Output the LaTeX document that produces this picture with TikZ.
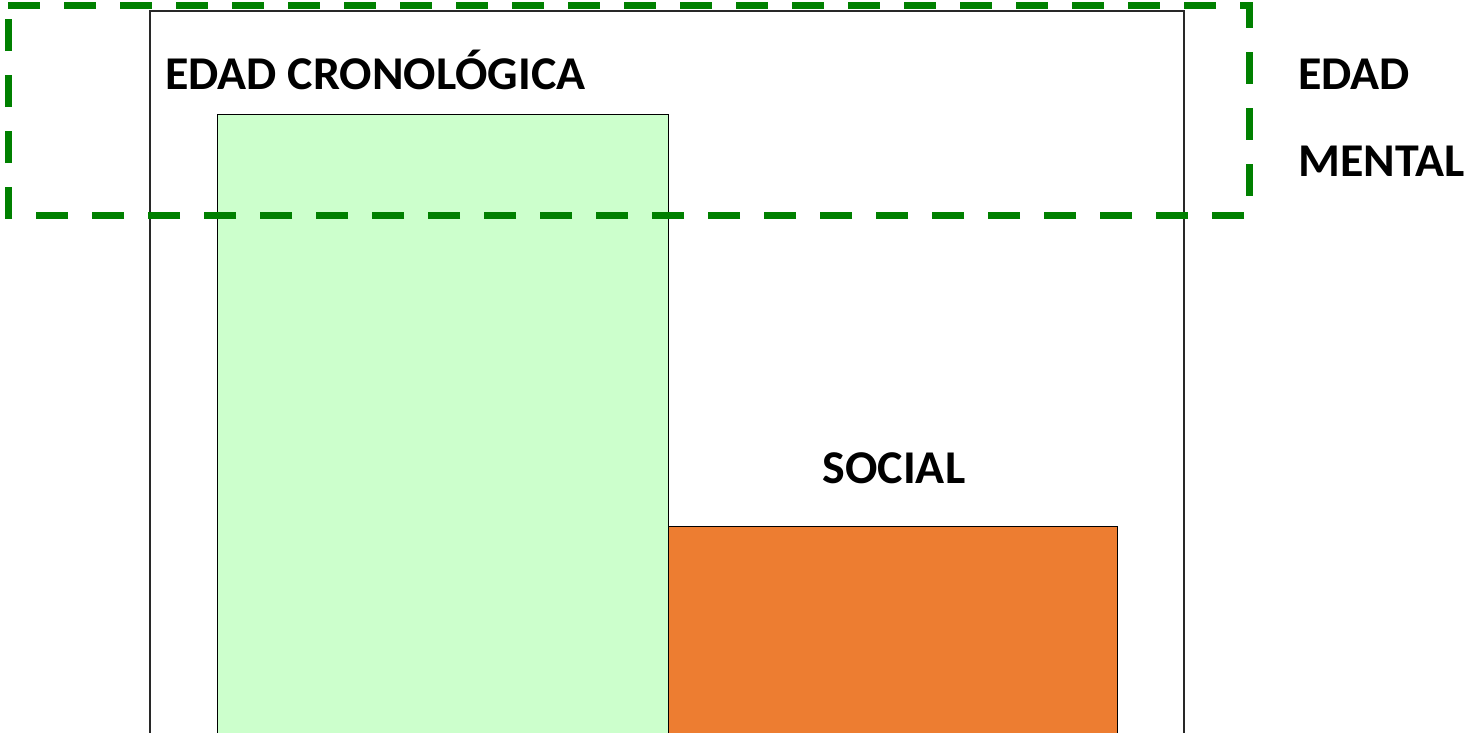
\documentclass[tikz,border=0pt]{standalone}
\usepackage{fontspec}
\setmainfont[FakeStretch=1.02]{Carlito}
\usetikzlibrary{positioning}
\definecolor{barverde}{HTML}{CCFFCC}
\definecolor{barnaranja}{HTML}{ED7D31}
\definecolor{lineaverde}{RGB}{0,128,0}
\definecolor{marcogris}{RGB}{40,40,40}

\begin{document}
\begin{tikzpicture}[x=1pt, y=-1pt,
    etiqueta/.style={inner sep=0pt, font=\fontsize{47}{56}\selectfont\bfseries}]
            \useasboundingbox (0, 0) rectangle (1465, 732);

            \draw[marcogris, line width=1.2pt] (150, 800) -- (150, 11) -- (1184, 11) -- (1184, 800);
            \draw[fill=barverde, line width=0.8pt] (217, 800) rectangle (668, 114);
            \draw[fill=barnaranja, line width=0.8pt] (668, 800) rectangle (1117, 526);

            \draw[lineaverde, line width=7pt, dash pattern=on 32pt off 24pt]
                (8, 5) -- (1249, 5) -- (1249, 215) -- (8, 215) -- cycle;

            \node [etiqueta, anchor=base west] (cronologica) at (165, 89)  { EDAD CRONOLÓGICA };
            \node [etiqueta, anchor=base west] (edad) at (1298, 89)  { EDAD };
            \node [etiqueta, anchor=base west] (mental) at (1298, 176) { MENTAL };
            \node [etiqueta, anchor=base] (social) at (894, 483) { SOCIAL };

        \end{tikzpicture}
\end{document}
